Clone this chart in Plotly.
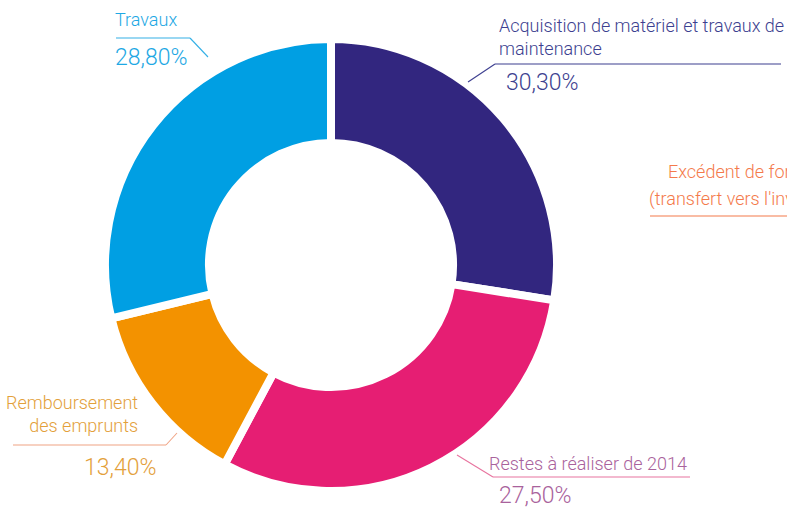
import plotly.graph_objects as go

W, H = 787, 508

# slices, clockwise from 12 o'clock
labels = ["Acquisition de matériel et travaux de<br>maintenance",
          "Restes à réaliser de 2014",
          "Remboursement<br>des emprunts",
          "Travaux"]
# arc sizes as drawn in the picture (first two look swapped vs. the printed %)
values = [27.50, 30.30, 13.40, 28.80]
pct_text = ["30,30%", "27,50%", "13,40%", "28,80%"]
slice_colors = ["#32267f", "#e61e73", "#f39200", "#009fe3"]
text_colors = ["#3d3f90", "#a9629c", "#e3a03a", "#1ea8e4"]
line_colors = ["#3d3f90", "#e8749f", "#f0a384", "#34b0e6"]

extra_label = ["Excédent de fonctionnement", "(transfert vers l'investissement)"]
extra_color = "#f47a4b"


def px(x):
    return x / W


def py(y):
    return 1 - y / H


FONT = "Roboto"
LBL, PCT = 18, 23

fig = go.Figure()

# centre about (331, 265), outer radius ~226 before white border
cx, cy, R = 331, 265, 226
fig.add_trace(go.Pie(
    labels=labels, values=values,
    sort=False, direction="clockwise", rotation=0,
    hole=0.54,
    marker=dict(colors=slice_colors, line=dict(color="white", width=8)),
    textinfo="none", hoverinfo="skip", showlegend=False,
    domain=dict(x=[px(cx - R), px(cx + R)], y=[py(cy + R), py(cy - R)]),
))

ann = []
shapes = []


def label(text, x, y, color, size, anchor="left", align="left"):
    ann.append(dict(text=text, x=px(x), y=py(y), xref="paper", yref="paper",
                    xanchor=anchor, yanchor="middle", align=align, showarrow=False,
                    font=dict(family=FONT, size=size, color=color, weight=300)))


def seg(x0, y0, x1, y1, color):
    shapes.append(dict(type="line", xref="paper", yref="paper",
                       x0=px(x0), y0=py(y0), x1=px(x1), y1=py(y1),
                       line=dict(color=color, width=1.1)))


# Acquisition
label(labels[0], 497, 37, text_colors[0], LBL)
label(pct_text[0], 504, 83, text_colors[0], PCT)
seg(468, 82, 495, 64, line_colors[0])
seg(495, 64, 781, 64, line_colors[0])

# Restes
label(labels[1], 487, 463, text_colors[1], LBL)
label(pct_text[1], 497, 495, text_colors[1], PCT)
seg(457, 455, 493, 477, line_colors[1])
seg(493, 477, 690, 477, line_colors[1])

# Remboursement
label(labels[2], 140, 414, text_colors[2], LBL, anchor="right", align="right")
label(pct_text[2], 82, 467, text_colors[2], PCT)
seg(13, 445, 166, 445, line_colors[2])
seg(166, 445, 177, 433, line_colors[2])

# Travaux
label(labels[3], 113, 19, text_colors[3], LBL)
label(pct_text[3], 113, 57, text_colors[3], PCT)
seg(116, 38, 190, 38, line_colors[3])
seg(190, 38, 208, 57, line_colors[3])

# Excédent (cut by the right edge, as in the source)
label(extra_label[0], 666, 171, extra_color, LBL)
label(extra_label[1], 647, 199, extra_color, LBL)
seg(650, 216, 787, 216, extra_color)

fig.update_layout(
    width=W, height=H,
    margin=dict(l=0, r=0, t=0, b=0),
    paper_bgcolor="white", plot_bgcolor="white",
    annotations=ann, shapes=shapes,
)

fig.write_html("out.html", config={"displayModeBar": False},
               post_script="document.body.style.margin='0';document.body.style.overflow='hidden';")
